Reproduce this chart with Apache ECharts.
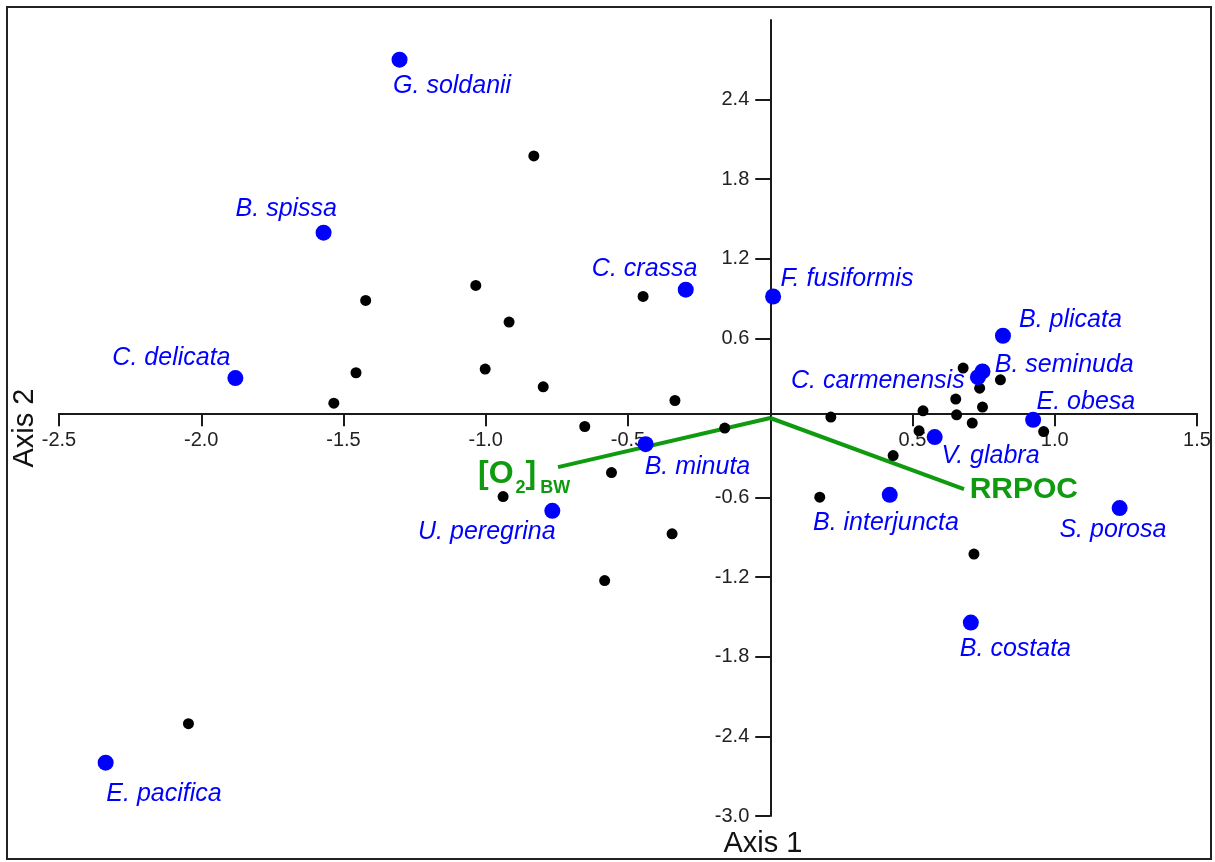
<!DOCTYPE html>
<html>
<head>
<meta charset="utf-8">
<script src="https://cdn.jsdelivr.net/npm/echarts@6/dist/echarts.min.js"></script>
<style>html,body{margin:0;padding:0;background:#fff}#c{width:1215px;height:862px}</style>
</head>
<body>
<div id="c"></div>
<script>
// ---- data ----
const speciesNames = ['G. soldanii','B. spissa','C. delicata','C. crassa','F. fusiformis','B. plicata','B. seminuda','C. carmenensis','E. obesa','V. glabra','B. minuta','U. peregrina','B. interjuncta','S. porosa','B. costata','E. pacifica'];
const speciesX = [-1.303,-1.570,-1.880,-0.297,0.010,0.818,0.746,0.730,0.924,0.578,-0.438,-0.766,0.420,1.228,0.705,-2.336];
const speciesY = [2.701,1.397,0.301,0.967,0.916,0.620,0.351,0.308,-0.014,-0.144,-0.197,-0.700,-0.579,-0.679,-1.542,-2.598];

const sampleX = [-0.831,-1.035,-1.422,-0.918,-1.456,-1.002,-0.798,-1.534,-0.447,-0.335,-0.652,-0.160,-0.558,-0.939,-0.345,-0.582,0.678,0.809,0.736,0.652,0.746,0.537,0.655,0.213,0.710,0.523,0.961,0.432,0.174,0.716,-2.045];
const sampleY = [1.975,0.999,0.886,0.723,0.341,0.369,0.235,0.112,0.916,0.132,-0.064,-0.076,-0.411,-0.592,-0.873,-1.225,0.376,0.288,0.225,0.143,0.082,0.054,0.024,0.007,-0.038,-0.097,-0.102,-0.283,-0.597,-1.026,-2.304];

const vectorNames = ['O2BW','RRPOC'];
const vectorX = [-0.746, 0.681];
const vectorY = [-0.370, -0.536];

const xTickValues = [-2.5,-2.0,-1.5,-1.0,-0.5,0.5,1.0,1.5];
const yTickValues = [-3.0,-2.4,-1.8,-1.2,-0.6,0.6,1.2,1.8,2.4];
const axisTitles = ['Axis 1','Axis 2'];

// ---- label placement (style only): [align, dx, dy] in px ----
const labelPlacement = [
  ['left',-6.5,26],['center',-37.3,-23.7],['right',-4.9,-20],['right',11.7,-20.7],
  ['left',7.4,-17.7],['left',16,-15.3],['left',12.3,-6.7],['right',-13.3,4.4],
  ['left',3.4,-18.3],['left',6.7,19.4],['left',-1,23],['right',3.3,20.7],
  ['center',-3.8,28.3],['center',-6.7,22.4],['left',-11,26.6],['left',0.7,31.6]
];

const FONT = '"Liberation Sans", Arial, Helvetica, sans-serif';
const GREEN = '#109a10';
const BLUE = '#0000ff';
const AXIS = '#1a1a1a';

const GRID = {left: 59, right: 18, top: 20, bottom: 46};
const W = 1215, H = 862;

const chart = echarts.init(document.getElementById('c'), null, {renderer: 'canvas'});

const speciesData = speciesNames.map((n, i) => ({
  name: n,
  value: [speciesX[i], speciesY[i]],
  label: {
    show: true, position: 'inside', verticalAlign: 'middle', formatter: '{b}',
    color: BLUE, fontSize: 25, fontStyle: 'italic', fontFamily: FONT, opacity: 1,
    align: labelPlacement[i][0], offset: [labelPlacement[i][1], labelPlacement[i][2]]
  }
}));
const sampleData = sampleX.map((x, i) => [x, sampleY[i]]);

const vectorLines = vectorNames.map((n, i) => ({
  type: 'line', name: n, z: 1,
  data: [[0, 0], [vectorX[i], vectorY[i]]],
  showSymbol: false, symbol: 'none', silent: true,
  lineStyle: {color: GREEN, width: 4, opacity: 1}
}));

const vectorLabels = [
  {
    value: [vectorX[0], vectorY[0]],
    label: {
      show: true, position: 'inside', align: 'left', verticalAlign: 'top', offset: [-80, -9.3], opacity: 1,
      formatter: '{b|[O}{s|2}{b|]}{t|BW}',
      rich: {
        b: {fontSize: 32, fontWeight: 'bold', color: GREEN, fontFamily: FONT, verticalAlign: 'top'},
        s: {fontSize: 18, fontWeight: 'bold', color: GREEN, fontFamily: FONT, verticalAlign: 'top', padding: [21, 0, 0, 2]},
        t: {fontSize: 18, fontWeight: 'bold', color: GREEN, fontFamily: FONT, verticalAlign: 'top', padding: [21, 0, 0, 4]}
      }
    }
  },
  {
    value: [vectorX[1], vectorY[1]],
    label: {
      show: true, position: 'inside', align: 'left', verticalAlign: 'middle', offset: [5.7, 0.7], opacity: 1,
      formatter: 'RRPOC', fontSize: 30, fontWeight: 'bold', color: GREEN, fontFamily: FONT
    }
  }
];

// the axes cross at data zero (x axis drawn a few px above y = 0 as in the source)
const plotW = W - GRID.left - GRID.right;
const xZeroFromLeft = plotW * (0 - (-2.5)) / (1.5 - (-2.5));

const option = {
  animation: false,
  backgroundColor: '#fff',
  grid: Object.assign({outerBoundsMode: 'none'}, GRID),
  xAxis: {
    type: 'value', min: -2.5, max: 1.5, interval: 0.5,
    position: 'bottom', offset: -402.7,
    splitLine: {show: false},
    axisLine: {onZero: false, lineStyle: {color: AXIS, width: 2}},
    axisTick: {show: true, length: 13, customValues: xTickValues, lineStyle: {color: AXIS, width: 2}},
    axisLabel: {customValues: xTickValues, formatter: v => Number(v).toFixed(1), margin: 17, color: '#222', fontSize: 20, fontFamily: FONT}
  },
  yAxis: {
    type: 'value', min: -3.0, max: 3.0, interval: 0.6,
    position: 'left', offset: -xZeroFromLeft,
    splitLine: {show: false},
    axisLine: {onZero: false, lineStyle: {color: AXIS, width: 2}},
    axisTick: {show: true, length: 15, customValues: yTickValues, lineStyle: {color: AXIS, width: 2}},
    axisLabel: {customValues: yTickValues, formatter: v => Number(v).toFixed(1), margin: 21, color: '#222', fontSize: 20, fontFamily: FONT}
  },
  series: [
    ...vectorLines,
    {
      type: 'scatter', name: 'samples', z: 2, symbol: 'circle', symbolSize: 11,
      itemStyle: {color: '#000', opacity: 1}, data: sampleData, silent: true
    },
    {
      type: 'scatter', name: 'species', z: 3, symbol: 'circle', symbolSize: 16,
      itemStyle: {color: BLUE, opacity: 1}, data: speciesData, silent: true
    },
    {
      type: 'scatter', name: 'vectorLabels', z: 4, symbol: 'circle', symbolSize: 1,
      itemStyle: {color: 'rgba(0,0,0,0)', opacity: 1}, data: vectorLabels, silent: true
    }
  ],
  graphic: [
    {type: 'rect', z: 100, shape: {x: 7, y: 7, width: 1204, height: 852},
     style: {fill: 'none', stroke: '#222', lineWidth: 2}},
    {type: 'text', z: 100, x: 763, y: 844,
     style: {text: axisTitles[0], font: '29px ' + FONT, fill: '#111', textAlign: 'center', textVerticalAlign: 'middle'}},
    {type: 'text', z: 100, x: 25, y: 428, rotation: Math.PI / 2,
     style: {text: axisTitles[1], font: '29px ' + FONT, fill: '#111', textAlign: 'center', textVerticalAlign: 'middle'}}
  ]
};
chart.setOption(option);
</script>
</body>
</html>
